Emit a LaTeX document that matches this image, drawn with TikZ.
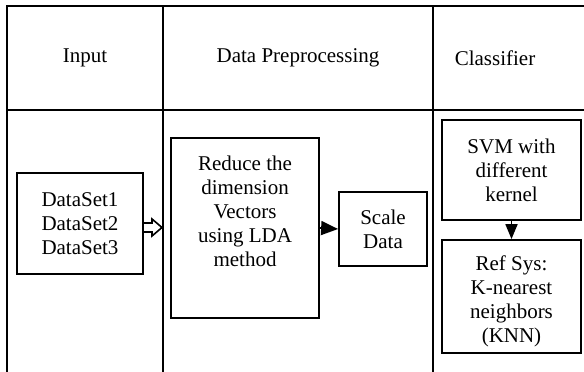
\documentclass[tikz,border=0pt]{standalone}
\usepackage{fontspec}
\setmainfont{LiberationSerif}[Extension=.ttf, UprightFont=*-Regular,
  BoldFont=*-Bold, ItalicFont=*-Italic, BoldItalicFont=*-BoldItalic]
\usetikzlibrary{arrows.meta,calc}

\tikzset{
  rule/.style={line width=1.9pt, line cap=rect},
  txt/.style={font=\fontsize{21}{24}\selectfont, align=center, inner sep=0pt},
  blk/.style={draw, line width=1.8pt, inner sep=0pt, align=center,
              font=\fontsize{21}{24}\selectfont},
}

\begin{document}
\begin{tikzpicture}[x=1pt, y=-1pt]
  \useasboundingbox (0,0) rectangle (584,372);

  % table frame
  \draw[rule] (584,6) -- (7,6) -- (7,380);
  \draw[rule] (7,110) -- (590,110);
  \draw[rule] (163,6) -- (163,380);
  \draw[rule] (433,6) -- (433,380);
  \coordinate (colsplit) at (162,227.5);

  % column headers
  \node[txt] (hinput) at (85,58) {Input};
  \node[txt] (hprep)  at (298,58) {Data Preprocessing};
  \node[txt] (hclass) at (495,58) {Classifier};

  % input block
  \node[blk, minimum width=126pt, minimum height=101pt] (ds) at (80,223.5)
    {DataSet1\\DataSet2\\DataSet3};

  % preprocessing blocks
  \node[blk, minimum width=148pt, minimum height=180pt,
        label={[txt, yshift=16.5pt]center:{Reduce the\\dimension\\Vectors\\using LDA\\method}}]
        (lda) at (245,228) {};
  \node[blk, minimum width=88pt, minimum height=74pt] (scale) at (383,229)
    {Scale\\Data};

  % classifier blocks
  \node[blk, minimum width=139pt, minimum height=100pt] (svm) at (511.5,170)
    {SVM with\\different\\kernel};
  \node[blk, minimum width=139pt, minimum height=113pt,
        label={[txt, yshift=-5pt]center:{Ref Sys:\\K-nearest\\neighbors\\(KNN)}}]
        (knn) at (511.5,296.5) {};

  % hollow block arrow from the data sets to the column border
  \draw[line width=1.6pt, line join=miter]
    ($(ds.east |- colsplit)+(0,-4.5)$) -- ($(colsplit)+(-10,-4.5)$)
    -- ($(colsplit)+(-10,-8.5)$) -- (colsplit) -- ($(colsplit)+(-10,8.5)$)
    -- ($(colsplit)+(-10,4.5)$) -- ($(ds.east |- colsplit)+(0,4.5)$);
  \draw[line width=1.8pt, -{Triangle[length=17pt, width=14pt]}]
        (lda.east) -- (scale.west);
  \draw[line width=1.8pt, -{Triangle[length=15pt, width=12pt]}]
        (svm.south) -- (knn.north);
\end{tikzpicture}
\end{document}
